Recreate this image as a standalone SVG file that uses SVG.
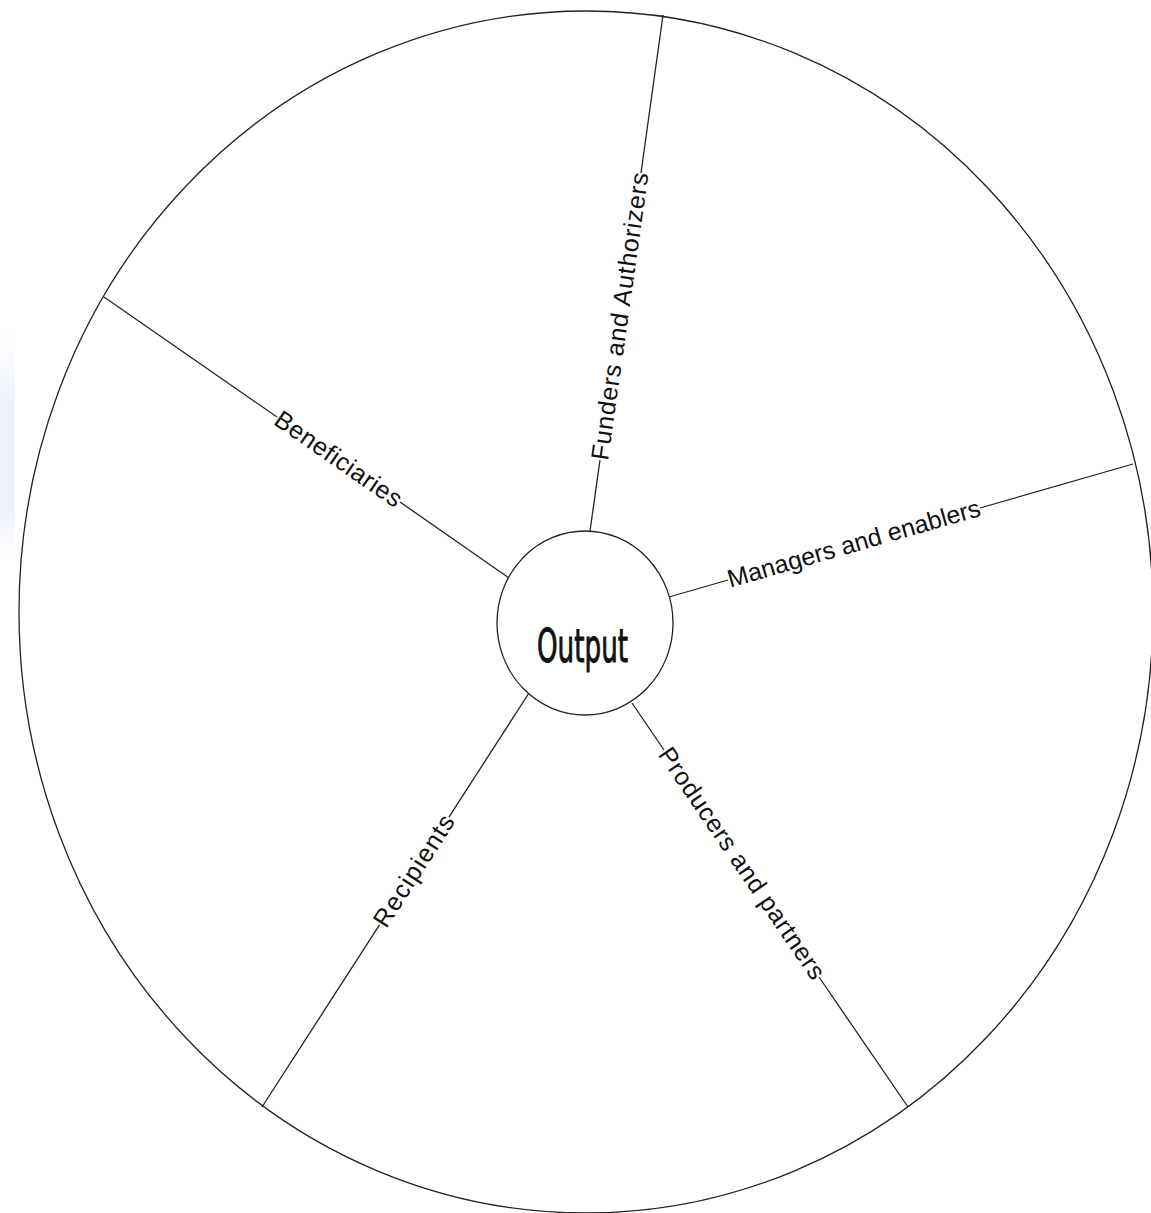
<svg xmlns="http://www.w3.org/2000/svg" width="1151" height="1213" viewBox="0 0 1151 1213">
<style>
.ln{stroke:#222;stroke-width:1.3;fill:none}
.lbl{font-family:"Liberation Sans",Arial,sans-serif;font-size:25px;fill:#111}
.hub{font-family:"Liberation Sans Narrow","DejaVu Sans Condensed",sans-serif;font-size:47px;fill:#111;stroke:#111;stroke-width:1}
</style>
<defs>
<linearGradient id="band" x1="0" y1="0" x2="0" y2="1">
<stop offset="0" stop-color="#eef3fb" stop-opacity="0"/>
<stop offset="0.3" stop-color="#eef3fb" stop-opacity="1"/>
<stop offset="0.8" stop-color="#eef3fb" stop-opacity="1"/>
<stop offset="1" stop-color="#eef3fb" stop-opacity="0"/>
</linearGradient>
</defs>
<rect x="0" y="0" width="1151" height="1213" fill="#ffffff"/>
<rect x="0" y="330" width="15" height="230" fill="url(#band)"/>
<g id="outer">
<ellipse class="ln" cx="586" cy="612" rx="567" ry="601"/>
</g>
<g id="connectors">
<line class="ln" x1="590" y1="531" x2="600" y2="460"/>
<line class="ln" x1="641" y1="173" x2="663" y2="15"/>
<line class="ln" x1="104" y1="297" x2="277" y2="417"/>
<line class="ln" x1="400" y1="502" x2="509" y2="578"/>
<line class="ln" x1="669" y1="597" x2="728" y2="580"/>
<line class="ln" x1="980" y1="508" x2="1133" y2="464"/>
<line class="ln" x1="632" y1="703" x2="664" y2="750"/>
<line class="ln" x1="819" y1="977" x2="908" y2="1107"/>
<line class="ln" x1="262" y1="1107" x2="379.5" y2="924.8"/>
<line class="ln" x1="448.9" y1="817.2" x2="529" y2="693"/>
</g>
<g id="labels">
<text class="lbl" transform="translate(600,460) rotate(-81.95)" x="0" y="0" dy="8" textLength="290">Funders and Authorizers</text>
<text class="lbl" transform="translate(277,417) rotate(34.7)" x="0" y="0" dy="8" textLength="149">Beneficiaries</text>
<text class="lbl" transform="translate(728,580) rotate(-16)" x="0" y="0" dy="8" textLength="262">Managers and enablers</text>
<text class="lbl" transform="translate(664,750) rotate(55.66)" x="0" y="0" dy="8" textLength="275">Producers and partners</text>
<text class="lbl" transform="translate(379.5,924.8) rotate(-57.18)" x="0" y="0" dy="8" textLength="128">Recipients</text>
</g>
<g id="output">
<ellipse cx="585" cy="623" rx="88" ry="92" fill="#fff" stroke="#222" stroke-width="1.3"/>
<text class="hub" x="537" y="662" textLength="91" lengthAdjust="spacingAndGlyphs">Output</text>
</g>
</svg>
